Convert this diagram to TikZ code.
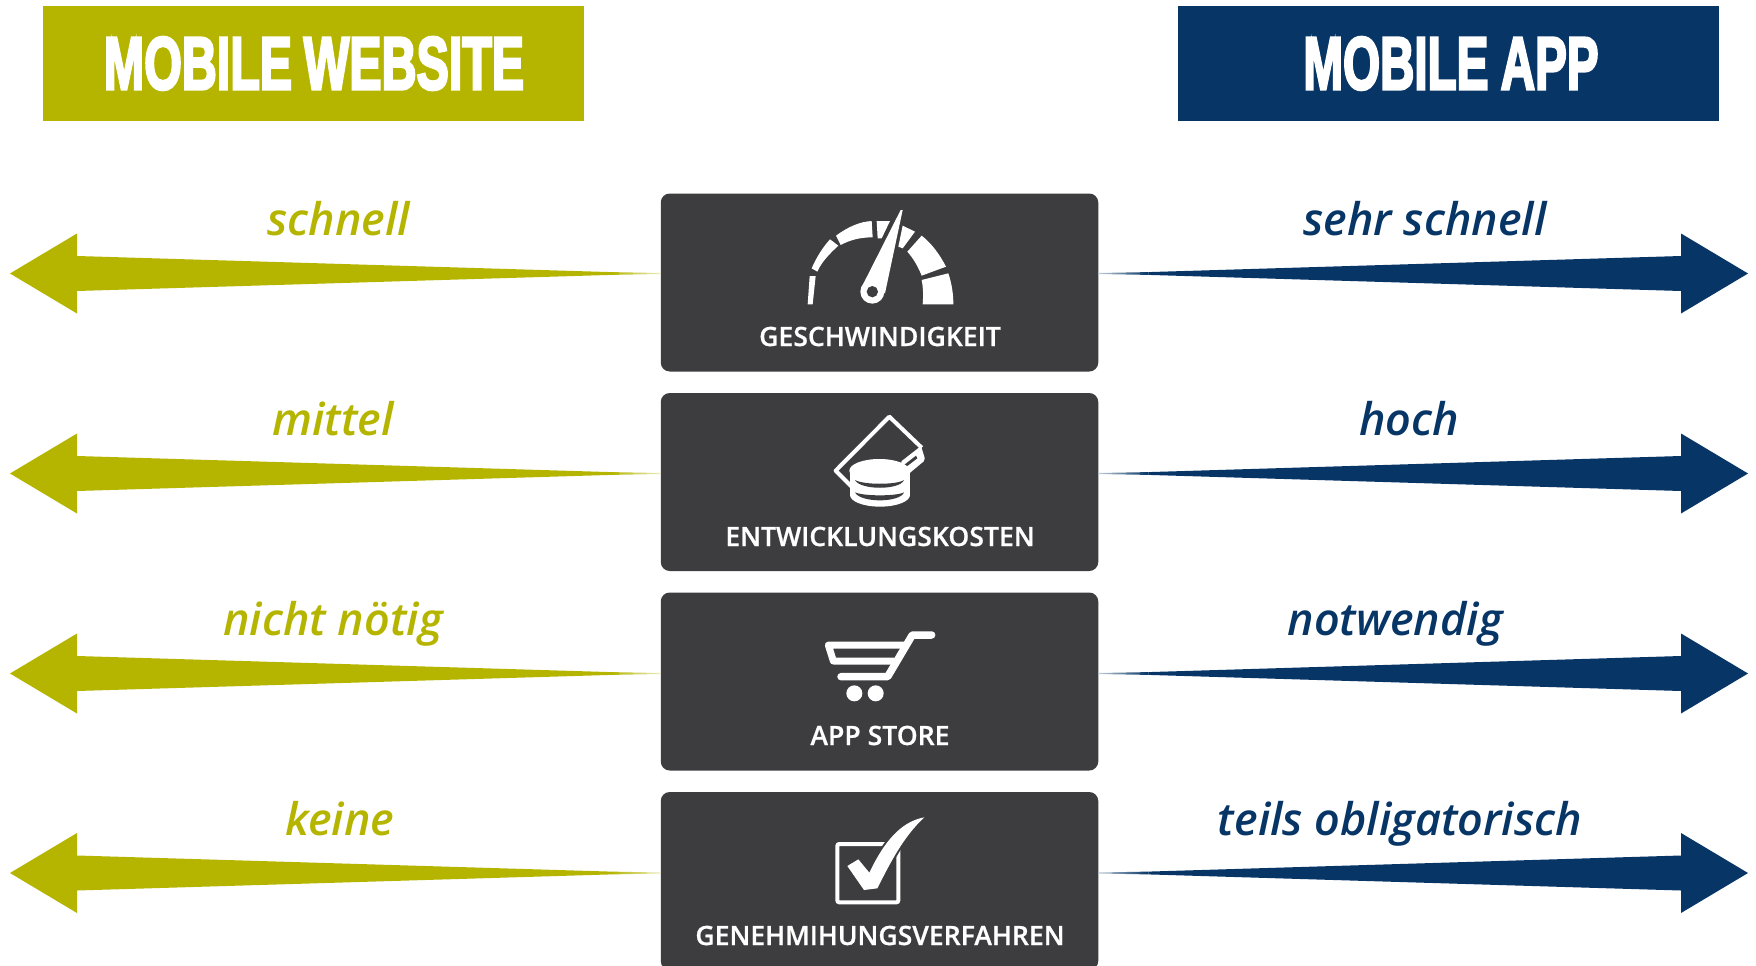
\documentclass[tikz,border=0pt]{standalone}
\usepackage{fontspec}
\usepackage{graphicx}
\usetikzlibrary{calc}
\setmainfont{Open Sans}
\newfontfamily\headfont[FakeBold=4]{Liberation Sans Bold}
\newfontfamily\capfont[FakeBold=0.7]{Open Sans Semibold}
\newfontfamily\valfont[ItalicFont={Open Sans Semibold Italic}]{Open Sans Semibold}
\definecolor{olivec}{HTML}{B5B500}
\definecolor{navyc}{HTML}{063566}
\definecolor{darkc}{HTML}{3D3D3F}
\tikzset{
  headbox/.style={inner sep=0pt,outer sep=0pt,minimum height=115pt,minimum width=541pt},
  headtext/.style={inner sep=0pt,outer sep=0pt,text=white},
  catbox/.style={fill=darkc,rounded corners=9pt,inner sep=0pt,outer sep=0pt,minimum width=437.5pt,minimum height=178pt},
  cattext/.style={text=white,inner sep=0pt,outer sep=0pt,anchor=base,font=\capfont\fontsize{26.6}{27}\selectfont},
  valtext/.style={inner sep=0pt,outer sep=0pt,anchor=base,font=\valfont\itshape\fontsize{45}{45}\selectfont},
  icon/.style={x=0.33333pt,y=-0.33333pt},
}
\newcommand{\leftarr}[2]{%
  \coordinate (tip#1) at (10,#2);
  \fill[olivec] (tip#1) -- ++(67,-40) -- ++(0,22.5) -- ($(b#1.west |- tip#1)+(-50,-1.4)$) -- ($(b#1.west |- tip#1)+(-50,1.4)$) -- ($(tip#1)+(67,17.5)$) -- ($(tip#1)+(67,40)$) -- cycle;
  \shade[left color=olivec,right color=olivec!25] ($(b#1.west |- tip#1)+(-50,-1.4)$) -- ($(b#1.west |- tip#1)+(0,-.5)$) -- ($(b#1.west |- tip#1)+(0,.5)$) -- ($(b#1.west |- tip#1)+(-50,1.4)$) -- cycle;
}
\newcommand{\rightarr}[2]{%
  \coordinate (tipr#1) at (1748,#2);
  \fill[navyc] (tipr#1) -- ++(-67,-40) -- ++(0,22.5) -- ($(b#1.east |- tipr#1)+(50,-1.4)$) -- ($(b#1.east |- tipr#1)+(50,1.4)$) -- ($(tipr#1)+(-67,17.5)$) -- ($(tipr#1)+(-67,40)$) -- cycle;
  \shade[right color=navyc,left color=navyc!25] ($(b#1.east |- tipr#1)+(50,-1.4)$) -- ($(b#1.east |- tipr#1)+(0,-.5)$) -- ($(b#1.east |- tipr#1)+(0,.5)$) -- ($(b#1.east |- tipr#1)+(50,1.4)$) -- cycle;
}
\begin{document}
\begin{tikzpicture}[x=1pt,y=-1pt]
\useasboundingbox (0,0) rectangle (1756,966);
\fill[white] (0,0) rectangle (1756,966);
% headers
\node[headbox,fill=olivec] (hw) at (313,63.5) {};
\node[headbox,fill=navyc] (ha) at (1448.5,63.5) {};
\node[headtext] (hwt) at (314,63.5) {\resizebox{420pt}{52pt}{\headfont MOBILE\hspace{0.24em}WEBSITE}};
\node[headtext] (hat) at (1451,63.5) {\resizebox{295pt}{52pt}{\headfont MOBILE\hspace{0.26em}APP}};
% category boxes
\node[catbox] (b1) at (879.5,282.5) {};
\node[catbox] (b2) at (879.5,482) {};
\node[catbox] (b3) at (879.5,681.5) {};
\node[catbox] (b4) at (879.5,881) {};
\node[cattext] (c1) at (880,346) {GESCHWINDIGKEIT};
\node[cattext] (c2) at (880,546) {ENTWICKLUNGSKOSTEN};
\node[cattext] (c3) at (880,745) {APP STORE};
\node[cattext] (c4) at (880,945) {GENEHMIHUNGSVERFAHREN};
% arrows
\leftarr{1}{273.5}\leftarr{2}{473.5}\leftarr{3}{673.5}\leftarr{4}{873}
\rightarr{1}{273.5}\rightarr{2}{473.5}\rightarr{3}{673.5}\rightarr{4}{873}
% values
\node[valtext,text=olivec] (v1) at (339,235) {schnell};
\node[valtext,text=olivec] (v2) at (333,435) {mittel};
\node[valtext,text=olivec] (v3) at (333,635) {nicht nötig};
\node[valtext,text=olivec] (v4) at (340,835) {keine};
\node[valtext,text=navyc] (w1) at (1425,235) {sehr schnell};
\node[valtext,text=navyc] (w2) at (1409,435) {hoch};
\node[valtext,text=navyc] (w3) at (1395,635) {notwendig};
\node[valtext,text=navyc] (w4) at (1400,835) {teils obligatorisch};
% gauge icon
\begin{scope}[shift={(810,205)},icon]
  \fill[white] (-7,298) -- (8,298) -- (17,213) -- (-1,213) -- cycle;
  \fill[white] (5,190) .. controls (20,155) and (40,125) .. (60,103) -- (85,122) .. controls (60,145) and (35,170) .. (22,200) -- cycle;
  \fill[white] (78,92) .. controls (115,65) and (150,50) .. (185,48) -- (188,97) .. controls (150,97) and (120,105) .. (92,120) -- cycle;
  \fill[white] (200,48) -- (240,48) -- (215,100) -- (203,100) -- cycle;
  \fill[white] (278,62) -- (315,80) -- (278,130) -- (265,125) -- cycle;
  \fill[white] (335,92) .. controls (365,115) and (390,150) .. (408,185) -- (335,212) .. controls (322,180) and (308,158) .. (292,140) -- cycle;
  \fill[white] (415,205) .. controls (425,235) and (430,265) .. (430,298) -- (338,298) .. controls (340,275) and (340,250) .. (335,225) -- cycle;
  \fill[white] (272,15) -- (278,15) -- (225,265) -- (153,250) -- cycle;
  \fill[white] (187,260) circle [radius=36];
  \fill[darkc] (187,260) circle [radius=17];
\end{scope}
% card and coins icon
\begin{scope}[shift={(820,405)},icon]
  \draw[white,line width=4pt,line join=round] (95,245) -- (47,197) -- (208,35) -- (305,128);
  \fill[white,rounded corners=2pt] (240,172) -- (303,123) -- (316,165) -- (262,210) -- cycle;
  \fill[darkc] (252,180) -- (288,152) -- (292,160) -- (258,186) -- cycle;
  \fill[white] (178,197) ellipse [x radius=90,y radius=35];
  \fill[white] (89,197) rectangle (270,270);
  \fill[white] (180,270) ellipse [x radius=90,y radius=35];
  \fill[darkc] (105,225) .. controls (130,240) and (230,240) .. (252,225) .. controls (240,256) and (120,256) .. (105,225) -- cycle;
  \fill[darkc] (105,262) .. controls (130,274) and (230,274) .. (252,262) .. controls (240,294) and (120,294) .. (105,262) -- cycle;
\end{scope}
% cart icon
\begin{scope}[shift={(815,625)},icon]
  \draw[white,line width=7.5pt,line cap=round,line join=round] (350,30) -- (292,30) -- (218,155) -- (78,155);
  \draw[white,line width=7pt,line cap=round,line join=round] (270,60) -- (40,60) -- (55,108) -- (235,108);
  \fill[white] (118,205) circle [radius=24];
  \fill[white] (182,205) circle [radius=24];
\end{scope}
% check icon
\begin{scope}[shift={(640,580)},icon]
  \draw[white,line width=4pt,rounded corners=2pt] (592,792) rectangle (775,967);
  \draw[darkc,line width=4pt,line join=round] (622,858) -- (655,838) -- (688,878) .. controls (730,790) and (780,725) .. (853,712) .. controls (790,770) and (750,850) .. (712,925) -- (672,930) -- cycle;
  \fill[white] (622,858) -- (655,838) -- (688,878) .. controls (730,790) and (780,725) .. (853,712) .. controls (790,770) and (750,850) .. (712,925) -- (672,930) -- cycle;
\end{scope}
\end{tikzpicture}
\end{document}
